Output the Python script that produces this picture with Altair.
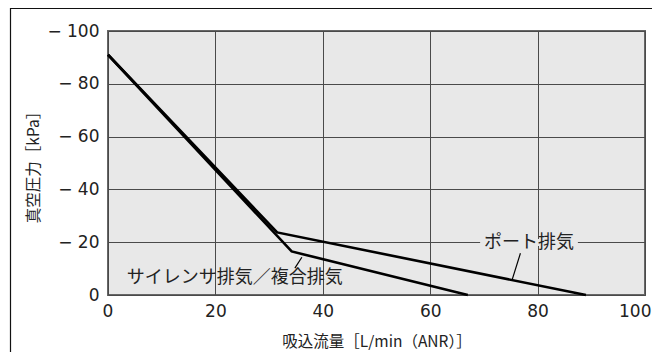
import altair as alt
import pandas as pd

# Data
port_x = [0, 31.5, 89]
port_y = [-91, -23.7, 0]
sil_x = [0, 34.2, 67]
sil_y = [-91, -16.5, 0]

x_ticks = [0, 20, 40, 60, 80, 100]
y_ticks = [0, -20, -40, -60, -80, -100]

port_label = "ポート排気"
sil_label = "サイレンサ排気／複合排気"
port_label_pos = (78.4, -19.8)
sil_label_pos = (23.6, -6.5)
port_leader = (76.8, -15.8, 75.3, -6.0)
sil_leader = (36.1, -14.3, 34.8, -10.2)
port_knockout = (69.3, 87.5, -18.6, -21.2)

FONT = "Noto Sans CJK JP"
NUMFONT = "DejaVu Sans"
BG = "#e8e8e8"

lines_df = pd.DataFrame(
    [{"x": a, "y": b, "s": "port"} for a, b in zip(port_x, port_y)]
    + [{"x": a, "y": b, "s": "sil"} for a, b in zip(sil_x, sil_y)]
)

xscale = alt.Scale(domain=[0, 100], nice=False, zero=False)
yscale = alt.Scale(domain=[0, -100], nice=False, zero=False)

xaxis = alt.Axis(
    values=x_ticks, title="吸込流量［L/min（ANR）］", grid=True, gridColor="#4a4a4a",
    gridWidth=1, ticks=False, domain=False, labelFont=NUMFONT, labelFontSize=17,
    labelColor="#222", labelPadding=8, titleFont=FONT, titleFontSize=15.5,
    titleFontWeight="normal", titleColor="#222", titlePadding=15,
    labelFlush=True, labelFlushOffset=6,
)
yaxis = alt.Axis(
    values=y_ticks, title="真空圧力［kPa］", grid=True, gridColor="#4a4a4a",
    gridWidth=1, ticks=False, domain=False, labelFont=NUMFONT, labelFontSize=17,
    labelColor="#222", labelPadding=9, titleFont=FONT, titleFontSize=15.5,
    titleFontWeight="normal", titleColor="#222", titlePadding=5,
    labelExpr="datum.value < 0 ? '− ' + abs(datum.value) : datum.label",
)

base_lines = alt.Chart(lines_df).mark_line(color="black", strokeWidth=2.6).encode(
    x=alt.X("x:Q", scale=xscale, axis=xaxis),
    y=alt.Y("y:Q", scale=yscale, axis=yaxis),
    detail="s:N",
)

knock_df = pd.DataFrame([{"x": port_knockout[0], "x2": port_knockout[1],
                          "y": port_knockout[2], "y2": port_knockout[3]}])
knock = alt.Chart(knock_df).mark_rect(fill=BG).encode(
    x=alt.X("x:Q", scale=xscale), x2="x2:Q",
    y=alt.Y("y:Q", scale=yscale), y2="y2:Q",
)

labels_df = pd.DataFrame([
    {"x": port_label_pos[0], "y": port_label_pos[1], "t": port_label},
    {"x": sil_label_pos[0], "y": sil_label_pos[1], "t": sil_label},
])
labels = alt.Chart(labels_df).mark_text(
    font=FONT, fontSize=18, color="#222", align="center", baseline="middle"
).encode(
    x=alt.X("x:Q", scale=xscale), y=alt.Y("y:Q", scale=yscale), text="t:N"
)

leaders_df = pd.DataFrame([
    {"x": port_leader[0], "y": port_leader[1], "x2": port_leader[2], "y2": port_leader[3]},
    {"x": sil_leader[0], "y": sil_leader[1], "x2": sil_leader[2], "y2": sil_leader[3]},
])
leaders = alt.Chart(leaders_df).mark_rule(color="black", strokeWidth=1.2).encode(
    x=alt.X("x:Q", scale=xscale), y=alt.Y("y:Q", scale=yscale),
    x2="x2:Q", y2="y2:Q",
)

frame = alt.Chart(pd.DataFrame([{"a": 0}])).mark_rect(
    fill=None, stroke="#111", strokeWidth=1.2, clip=False
).encode(
    x=alt.value(-97.5), x2=alt.value(800), y=alt.value(-22.5), y2=alt.value(500)
)

chart = alt.layer(frame, base_lines, knock, labels, leaders).properties(
    width=537, height=264,
    autosize=alt.AutoSizeParams(type="none"),
    padding={"left": 100, "top": 23, "right": 7, "bottom": 57},
    background="white",
).configure_view(fill=BG, stroke="#666", strokeWidth=2)

chart.save("out.html", embed_options={"renderer": "svg", "actions": False})
